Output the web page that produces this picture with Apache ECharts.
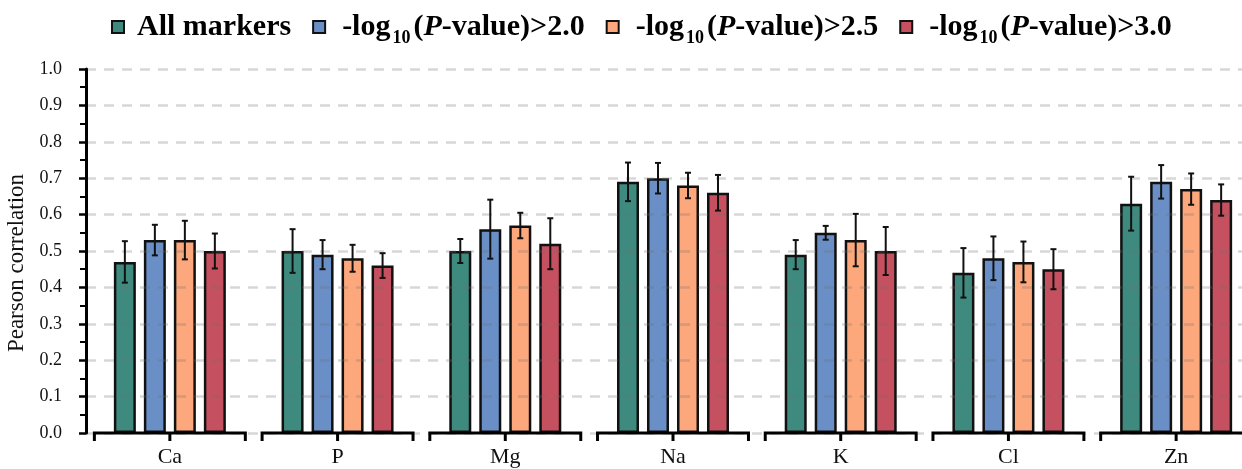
<!DOCTYPE html>
<html>
<head>
<meta charset="utf-8">
<script src="https://cdn.jsdelivr.net/npm/echarts@6/dist/echarts.min.js"></script>
<style>
  html, body { margin: 0; padding: 0; background: #fff; }
  #chart { width: 1242px; height: 469px; }
</style>
</head>
<body>
<div id="chart"></div>
<script>
/****** DATA ******/
const categories = ['Ca', 'P', 'Mg', 'Na', 'K', 'Cl', 'Zn'];
const seriesNames = ['All markers', '-log10(P-value)>2.0', '-log10(P-value)>2.5', '-log10(P-value)>3.0'];

const allMarkers    = [0.47, 0.50, 0.50, 0.69, 0.49, 0.44, 0.63];
const allMarkersErr = [0.057, 0.060, 0.033, 0.053, 0.040, 0.068, 0.074];
const p20           = [0.53, 0.49, 0.56, 0.70, 0.55, 0.48, 0.69];
const p20Err        = [0.042, 0.040, 0.081, 0.042, 0.019, 0.060, 0.046];
const p25           = [0.53, 0.48, 0.57, 0.68, 0.53, 0.47, 0.67];
const p25Err        = [0.053, 0.037, 0.035, 0.035, 0.072, 0.056, 0.043];
const p30           = [0.50, 0.46, 0.52, 0.66, 0.50, 0.45, 0.64];
const p30Err        = [0.048, 0.034, 0.070, 0.049, 0.066, 0.055, 0.043];

/****** STYLE ******/
const colors = ['#3f8a7e', '#6a8fc6', '#fca87c', '#c5505f'];
const FONT = '"Liberation Serif", "Times New Roman", serif';
const BAR_W = 22;      // bar body width (px)
const BAR_SPACE = 8;   // space between bars in a group (px)

var values = [allMarkers, p20, p25, p30];
var errors = [allMarkersErr, p20Err, p25Err, p30Err];

// error bar items: [category index, series index, value, error]
var errData = [];
for (var g = 0; g < values.length; g++) {
    for (var c = 0; c < categories.length; c++) {
        errData.push([c, g, values[g][c], errors[g][c]]);
    }
}

function renderError(params, api) {
    var cat = api.value(0), g = api.value(1), v = api.value(2), e = api.value(3);
    var hi = api.coord([cat, v + e]);
    var lo = api.coord([cat, v - e]);
    var x = hi[0] + (g - 1.5) * (BAR_W + BAR_SPACE);
    var st = { stroke: '#111', lineWidth: 2 };
    return {
        type: 'group',
        children: [
            { type: 'line', shape: { x1: x, y1: hi[1], x2: x, y2: lo[1] }, style: st },
            { type: 'line', shape: { x1: x - 3, y1: hi[1], x2: x + 3, y2: hi[1] }, style: st },
            { type: 'line', shape: { x1: x - 3, y1: lo[1], x2: x + 3, y2: lo[1] }, style: st }
        ]
    };
}

// one bracket-shaped axis piece per category
function renderBracket(params, api) {
    var p = api.coord([api.value(0), 0]);
    var half = api.size([1, 0])[0] * 0.45;
    var st = { stroke: '#000', lineWidth: 3, fill: null };
    return {
        type: 'group',
        children: [
            { type: 'polyline', shape: { points: [[p[0] - half, p[1] + 8], [p[0] - half, p[1]], [p[0] + half, p[1]], [p[0] + half, p[1] + 8]] }, style: st },
            { type: 'line', shape: { x1: p[0], y1: p[1], x2: p[0], y2: p[1] + 8 }, style: st }
        ]
    };
}

var series = seriesNames.map(function (name, i) {
    return {
        name: name,
        type: 'bar',
        barWidth: BAR_W,
        barGap: (BAR_SPACE / BAR_W * 100) + '%',
        itemStyle: { color: colors[i], borderColor: '#111', borderWidth: 2.5 },
        data: values[i]
    };
});
series.push({
    type: 'custom',
    renderItem: renderError,
    data: errData,
    encode: { x: 0, y: 2 },
    z: 12,
    silent: true
});
series.push({
    type: 'custom',
    renderItem: renderBracket,
    data: categories.map(function (c, i) { return [i, 0]; }),
    encode: { x: 0, y: 1 },
    clip: false,
    z: 12,
    silent: true
});

var option = {
    animation: false,
    color: colors,
    legend: {
        data: seriesNames,
        left: 106,
        top: 7,
        icon: 'rect',
        itemWidth: 12,
        itemHeight: 12,
        itemGap: 21,
        itemStyle: { borderColor: '#111', borderWidth: 2 },
        formatter: function (name) {
            if (name === 'All markers') return '{a|All markers}';
            return '{c|-log}{s|10}{b|(}{i|P}{b|-value)>' + name.split('>')[1] + '}';
        },
        textStyle: {
            padding: [0, 0, 0, 8],
            rich: {
                a: { fontFamily: FONT, fontWeight: 'bold', fontSize: 30, color: '#000', padding: [0, 9, 0, 0] },
                c: { fontFamily: FONT, fontWeight: 'bold', fontSize: 30, color: '#000', padding: [0, 0, 0, 4] },
                b: { fontFamily: FONT, fontWeight: 'bold', fontSize: 30, color: '#000' },
                i: { fontFamily: FONT, fontWeight: 'bold', fontStyle: 'italic', fontSize: 30, color: '#000' },
                s: { fontFamily: FONT, fontWeight: 'bold', fontSize: 18, color: '#000', padding: [22, 3, 0, 2] }
            }
        }
    },
    grid: { left: 86, top: 69, width: 1174, bottom: 36, outerBoundsMode: 'none', containLabel: false },
    xAxis: {
        type: 'category',
        data: categories,
        axisLine: { show: false },
        axisTick: { show: false },
        axisLabel: { fontFamily: FONT, fontSize: 22, color: '#111', margin: 13 }
    },
    yAxis: {
        type: 'value',
        min: 0,
        max: 1,
        interval: 0.1,
        z: 5,
        name: 'Pearson correlation',
        nameLocation: 'middle',
        nameGap: 54,
        nameTextStyle: { fontFamily: FONT, fontSize: 23, color: '#111', padding: [0, 24, 0, 0] },
        axisLine: { show: true, lineStyle: { color: '#000', width: 3 } },
        axisTick: { show: true, length: 7, lineStyle: { color: '#000', width: 2.5 } },
        minorTick: { show: true, splitNumber: 2, length: 6, lineStyle: { color: '#000', width: 2 } },
        axisLabel: {
            fontFamily: FONT, fontSize: 18, color: '#111', margin: 24,
            formatter: function (v) { return v.toFixed(1); }
        },
        splitLine: { show: true, lineStyle: { color: 'rgba(110,110,110,0.28)', width: 2.5, type: [10, 8] } }
    },
    series: series
};

var chart = echarts.init(document.getElementById('chart'));
chart.setOption(option);
</script>
</body>
</html>
